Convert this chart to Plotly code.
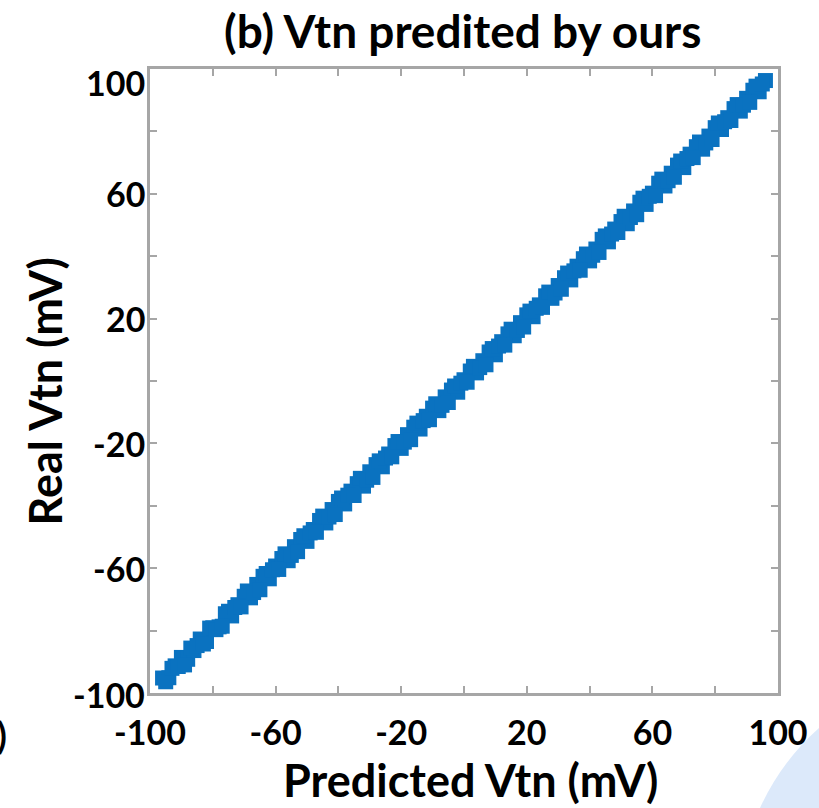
import plotly.graph_objects as go

# Data (two interleaved groups of samples along the band)
predicted_a = [-96, -94, -92, -90, -88, -86, -84, -82, -80, -78, -76, -74, -72, -70, -68, -66,
               -64, -62, -60, -58, -56, -54, -52, -50, -48, -46, -44, -42, -40, -38, -36, -34,
               -32, -30, -28, -26, -24, -22, -20, -18, -16, -14, -12, -10, -8, -6, -4, -2, 0,
               2, 4, 6, 8, 10, 12, 14, 16, 18, 20, 22, 24, 26, 28, 30, 32, 34, 36, 38, 40, 42,
               44, 46, 48, 50, 52, 54, 56, 58, 60, 62, 64, 66, 68, 70, 72, 74, 76, 78, 80, 82,
               84, 86, 88, 90, 92, 94, 96]
real_a = [-95.2, -95.1, -91.3, -88.6, -89.2, -86.4, -82.7, -83.5, -79.1, -78.8, -74.6, -75.3,
          -71.7, -69.0, -69.5, -65.2, -62.6, -63.4, -59.3, -56.9, -57.6, -53.1, -50.8, -51.4,
          -47.6, -44.7, -45.5, -41.2, -38.6, -39.4, -35.3, -32.9, -33.7, -29.1, -26.8, -27.5,
          -23.4, -20.7, -21.6, -17.2, -14.8, -15.4, -11.3, -8.7, -9.5, -5.1, -2.9, -3.6, 0.4,
          3.2, 2.6, 6.5, 9.3, 8.4, 12.6, 15.1, 14.5, 18.7, 21.2, 20.6, 24.4, 27.3, 26.5, 30.6,
          33.1, 32.4, 36.8, 39.2, 38.5, 42.3, 45.4, 44.6, 48.7, 51.1, 50.4, 54.5, 57.3, 56.6,
          60.2, 63.4, 62.5, 66.6, 69.2, 68.4, 72.7, 75.1, 74.3, 78.5, 81.2, 80.6, 84.4, 87.3,
          86.5, 90.6, 93.2, 92.7, 96.3]

predicted_b = [-95, -93, -91, -89, -87, -85, -83, -81, -79, -77, -75, -73, -71, -69, -67, -65,
               -63, -61, -59, -57, -55, -53, -51, -49, -47, -45, -43, -41, -39, -37, -35, -33,
               -31, -29, -27, -25, -23, -21, -19, -17, -15, -13, -11, -9, -7, -5, -3, -1,
               1, 3, 5, 7, 9, 11, 13, 15, 17, 19, 21, 23, 25, 27, 29, 31, 33, 35, 37, 39, 41,
               43, 45, 47, 49, 51, 53, 55, 57, 59, 61, 63, 65, 67, 69, 71, 73, 75, 77, 79, 81,
               83, 85, 87, 89, 91, 93, 95]
real_b = [-96.4, -92.1, -91.5, -91.0, -85.6, -84.8, -84.3, -79.2, -79.7, -78.6, -73.8, -72.6,
          -72.4, -67.3, -67.8, -66.9, -61.7, -60.5, -60.4, -55.4, -55.9, -54.7, -49.6, -48.7,
          -48.5, -43.3, -43.6, -42.8, -37.5, -36.6, -36.7, -31.2, -31.8, -30.9, -25.6, -24.7,
          -24.3, -19.4, -19.6, -18.8, -13.5, -12.7, -12.4, -7.3, -7.8, -6.9, -1.6, -0.7,
          -0.4, 4.7, 4.3, 5.2, 10.4, 11.2, 11.5, 16.6, 16.2, 17.3, 22.4, 23.3, 23.6, 28.5,
          28.2, 29.4, 34.6, 35.3, 35.5, 40.7, 40.3, 41.2, 46.5, 47.1, 47.6, 52.8, 52.4, 53.3,
          58.6, 59.2, 59.4, 64.7, 64.2, 65.3, 70.5, 71.3, 71.6, 76.6, 76.3, 77.4, 82.7, 83.1,
          83.5, 88.6, 88.4, 89.3, 94.5, 95.2]

tick_vals = [-100, -80, -60, -40, -20, 0, 20, 40, 60, 80, 100]
tick_text = ["-100", "", "-60", "", "-20", "", "20", "", "60", "", "100"]

title_text = "(b) Vtn predited by ours"
x_title = "Predicted Vtn (mV)"
y_title = "Real Vtn (mV)"

FONT = "Lato"
BLUE = "#0a72c0"
AXIS = "#a6a6a6"
TICK_FONT = dict(family=FONT, size=34, color="black", weight="bold")
LABEL_FONT = dict(family=FONT, size=45, color="black", weight="bold")

fig = go.Figure()
for xs, ys in ((predicted_a, real_a), (predicted_b, real_b)):
    fig.add_trace(go.Scatter(
        x=xs, y=ys, mode="markers",
        marker=dict(symbol="square", size=15, color=BLUE, line=dict(width=0)),
        showlegend=False, hoverinfo="skip"))

axis_common = dict(
    range=[-100, 100], tickmode="array", tickvals=tick_vals,
    ticks="inside", ticklen=7, tickwidth=1.5, tickcolor=AXIS,
    showline=True, linecolor=AXIS, linewidth=3, mirror="ticks",
    showgrid=False, zeroline=False, tickfont=TICK_FONT,
)

fig.update_xaxes(**axis_common, ticktext=tick_text, ticklabelstandoff=8)
# y tick labels are drawn as annotations anchored to the y axis so they sit flush with the frame
fig.update_yaxes(**axis_common, ticktext=[""] * len(tick_vals))

annotations = []
for v, t in zip(tick_vals, tick_text):
    if not t:
        continue
    shift = -13 if v == 100 else (-1 if v == -100 else 0)
    annotations.append(dict(text=t, xref="paper", yref="y", x=-0.004, y=v, xanchor="right",
                            yanchor="middle", yshift=shift, showarrow=False, font=TICK_FONT))

annotations += [
    dict(text=x_title, xref="paper", yref="paper", x=0.51, y=-0.1394, xanchor="center",
         yanchor="middle", showarrow=False, font=LABEL_FONT),
    dict(text=y_title, xref="paper", yref="paper", x=-0.168, y=0.484, xanchor="center",
         yanchor="middle", textangle=-90, showarrow=False, font=LABEL_FONT),
    dict(text=")", xref="paper", yref="paper", x=-0.2245, y=-0.0673,
         xanchor="right", yanchor="middle", showarrow=False,
         font=dict(family=FONT, size=36, color="black", weight="bold")),
]

fig.update_layout(
    width=819, height=808,
    margin=dict(l=150, r=41, t=69, b=115, autoexpand=False),
    paper_bgcolor="white", plot_bgcolor="white",
    title=dict(text=title_text, x=0.565, xanchor="center", y=0.961, yanchor="middle",
               font=dict(family=FONT, size=46, color="black", weight="bold")),
    shapes=[dict(type="path", xref="paper", yref="paper", layer="below",
                 path="M 1.0653,-0.0561 Q 1.005,-0.11 0.9713,-0.1843 L 1.08,-0.19 Z",
                 fillcolor="#dce9fa", line=dict(width=0))],
    annotations=annotations,
)

fig.write_html("out.html")
